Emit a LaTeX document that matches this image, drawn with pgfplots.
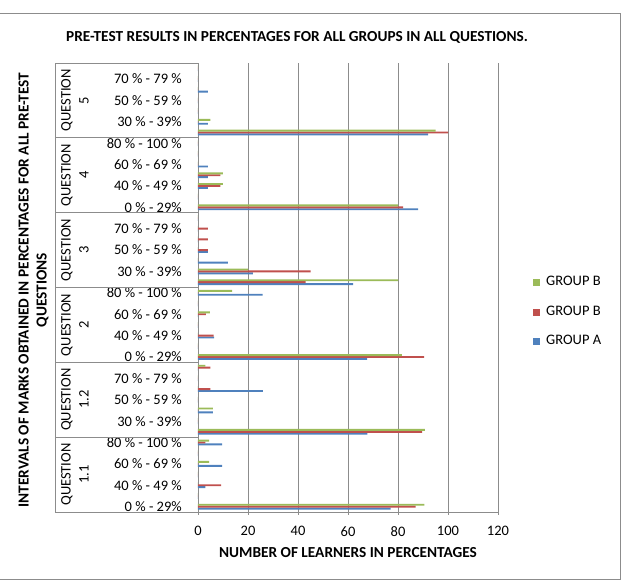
\documentclass[border=0pt]{standalone}
\usepackage{fontspec}
\setmainfont{Carlito}
\usepackage{pgfplots}
\usepackage{pgfplotstable}
\pgfplotsset{compat=1.18}

\definecolor{grpA}{HTML}{4F81BD}
\definecolor{grpB}{HTML}{C0504D}
\definecolor{grpC}{HTML}{9BBB59}
\definecolor{rulegray}{HTML}{8C8C8C}

\newcommand{\lbl}{\fontsize{14.5}{18}\selectfont}
\newcommand{\ttl}{\fontsize{15.3}{18}\selectfont\bfseries}

% Pre-test results: one row per mark interval, 7 intervals per question
% (idx 0-6 Q1.1, 7-13 Q1.2, 14-20 Q2, 21-27 Q3, 28-34 Q4, 35-41 Q5)
\pgfplotstableread{
idx A    B1   B2
0   77   87   90.5
1   0    0    0
2   3    9.3  0
3   0    0    0
4   9.7  0    4.5
5   0    0    0
6   9.7  3    4.5
7   67.7 89.6 90.7
8   0    0    0
9   6    0    6
10  0    0    0
11  26   5    0
12  0    0    0
13  0    5    3
14  67.6 90.4 81.5
15  0    0    0
16  6.5  6.3  0
17  0    0    0
18  0    3.2  4.8
19  0    0    0
20  25.9 0    13.7
21  62   43   80
22  22   45   20
23  12   0    0
24  4    4    0
25  0    4    0
26  0    4    0
27  0    0    0
28  88   82   80
29  0    0    0
30  4    9    10
31  4    9    10
32  4    0    0
33  0    0    0
34  0    0    0
35  92   100  95
36  4    0    5
37  0    0    0
38  0    0    0
39  4    0    0
40  0    0    0
41  0    0    0
}\pretest

\begin{document}
\begin{tikzpicture}
\useasboundingbox (0pt,0pt) rectangle (622pt,580pt);
\draw[rulegray, line width=0.9pt] (-2pt,1pt) rectangle (620pt,567pt);

\node[font=\ttl] at (297pt,542.5pt)
  {PRE-TEST RESULTS IN PERCENTAGES FOR ALL GROUPS IN ALL QUESTIONS.};

\begin{axis}[
  at={(198pt,68pt)}, anchor=south west,
  scale only axis, width=300pt, height=449pt,
  clip=false,
  xbar, bar width=0.18,
  xmin=0, xmax=120, xtick={0,20,...,120},
  ymin=-0.5, ymax=41.5,
  ytick={0,2,...,40},
  yticklabels={0 \% - 29\%, 40 \% - 49 \%, 60 \% - 69 \%, 80 \% - 100 \%,
    30 \% - 39\%, 50 \% - 59 \%, 70 \% - 79 \%,
    0 \% - 29\%, 40 \% - 49 \%, 60 \% - 69 \%, 80 \% - 100 \%,
    30 \% - 39\%, 50 \% - 59 \%, 70 \% - 79 \%,
    0 \% - 29\%, 40 \% - 49 \%, 60 \% - 69 \%, 80 \% - 100 \%,
    30 \% - 39\%, 50 \% - 59 \%, 70 \% - 79 \%},
  axis x line*=bottom, axis y line*=left,
  axis line style={rulegray, line width=0.9pt, -},
  xmajorgrids, major grid style={rulegray, line width=0.9pt},
  tick align=outside, major tick length=3pt,
  xtick style={rulegray, line width=0.9pt},
  ytick style={draw=none},
  /pgf/number format/assume math mode=true,
  xticklabel style={font=\lbl, yshift=-8pt},
  yticklabel style={font=\lbl, anchor=east, inner sep=0pt, xshift=-13pt},
  legend style={draw=none, fill=none, inner sep=0pt, font=\lbl,
    at={(1.1167,0.4454)}, anchor=west, row sep=17pt, column sep=6pt,
    nodes={inner sep=0pt, text height=9.5pt, text depth=3pt}},
  legend cell align=left,
  reverse legend,
  legend image code/.code={\draw[#1, draw=none] (0pt,-3.5pt) rectangle (7pt,3.5pt);},
]
\addplot[fill=grpA, draw=none, bar shift=-0.18] table[x=A, y=idx] {\pretest};
\addplot[fill=grpB, draw=none, bar shift=0] table[x=B1, y=idx] {\pretest};
\addplot[fill=grpC, draw=none, bar shift=0.18] table[x=B2, y=idx] {\pretest};
\addlegendentry{GROUP A}
\addlegendentry{GROUP B}
\addlegendentry{GROUP B}

% frame of the question groups on the category axis
\pgfplotsinvokeforeach{-0.5,6.5,13.5,20.5,27.5,34.5,41.5}{
  \draw[rulegray, line width=0.9pt] (axis cs:0,#1) -- ++(-143pt,0pt);
}
\draw[rulegray, line width=0.9pt] ([xshift=-143pt]axis cs:0,-0.5) -- ([xshift=-143pt]axis cs:0,41.5);

\node[rotate=90, align=center, font=\lbl] at ([xshift=-123pt]axis cs:0,3) {QUESTION\\1.1};
\node[rotate=90, align=center, font=\lbl] at ([xshift=-123pt]axis cs:0,10) {QUESTION\\1.2};
\node[rotate=90, align=center, font=\lbl] at ([xshift=-123pt]axis cs:0,17) {QUESTION\\2};
\node[rotate=90, align=center, font=\lbl] at ([xshift=-123pt]axis cs:0,24) {QUESTION\\3};
\node[rotate=90, align=center, font=\lbl] at ([xshift=-123pt]axis cs:0,31) {QUESTION\\4};
\node[rotate=90, align=center, font=\lbl] at ([xshift=-123pt]axis cs:0,38) {QUESTION\\5};
\end{axis}

\node[font=\ttl] at (348pt,27pt) {NUMBER OF LEARNERS IN PERCENTAGES};
\node[rotate=90, align=center, font=\ttl] at (33.5pt,290pt)
  {INTERVALS OF MARKS OBTAINED IN PERCENTAGES FOR ALL PRE-TEST\\QUESTIONS};
\end{tikzpicture}
\end{document}
